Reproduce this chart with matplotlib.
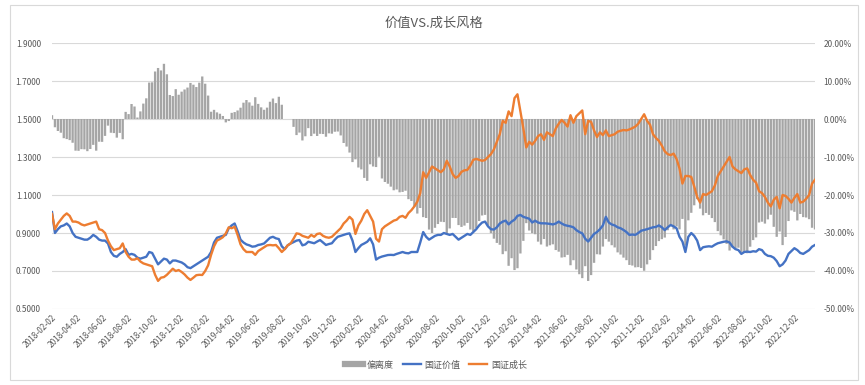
import matplotlib
import numpy as np
import pandas as pd

matplotlib.use("Agg")
import matplotlib.pyplot as plt  # noqa: E402
from matplotlib.lines import Line2D  # noqa: E402
from matplotlib.patches import Rectangle  # noqa: E402
from matplotlib.ticker import FuncFormatter  # noqa: E402

plt.rcParams["font.family"] = ["Noto Sans CJK SC", "DejaVu Sans"]

# weekly readings (Fridays) starting 2018-02-02
start = "2018-02-02"
value_idx = [  # 国证价值
    1.01, 0.90, 0.92, 0.935, 0.94, 0.95, 0.935, 0.90, 0.88, 0.875,
    0.87, 0.865, 0.865, 0.875, 0.89, 0.88, 0.865, 0.86, 0.86, 0.845,
    0.80, 0.78, 0.775, 0.79, 0.80, 0.815, 0.785, 0.79, 0.785, 0.77,
    0.765, 0.77, 0.775, 0.80, 0.795, 0.765, 0.735, 0.75, 0.765, 0.76,
    0.74, 0.755, 0.755, 0.75, 0.745, 0.735, 0.72, 0.715, 0.725, 0.735,
    0.745, 0.755, 0.765, 0.775, 0.80, 0.85, 0.875, 0.88, 0.885, 0.89,
    0.925, 0.94, 0.95, 0.91, 0.865, 0.85, 0.84, 0.835, 0.828, 0.83,
    0.837, 0.84, 0.845, 0.86, 0.875, 0.88, 0.872, 0.868, 0.83, 0.815,
    0.835, 0.845, 0.852, 0.86, 0.863, 0.835, 0.84, 0.854, 0.85, 0.846,
    0.855, 0.863, 0.85, 0.837, 0.842, 0.846, 0.865, 0.88, 0.885, 0.89,
    0.895, 0.898, 0.86, 0.80, 0.82, 0.837, 0.845, 0.854, 0.872, 0.84,
    0.76, 0.77, 0.776, 0.78, 0.784, 0.785, 0.784, 0.79, 0.795, 0.80,
    0.795, 0.793, 0.80, 0.80, 0.80, 0.85, 0.905, 0.88, 0.865, 0.875,
    0.885, 0.89, 0.89, 0.90, 0.895, 0.89, 0.895, 0.88, 0.865, 0.875,
    0.885, 0.895, 0.89, 0.905, 0.92, 0.94, 0.955, 0.96, 0.935, 0.92,
    0.918, 0.93, 0.95, 0.96, 0.965, 0.945, 0.96, 0.97, 0.99, 0.995,
    0.985, 0.98, 0.975, 0.955, 0.965, 0.955, 0.951, 0.951, 0.95, 0.948,
    0.945, 0.95, 0.96, 0.95, 0.942, 0.938, 0.935, 0.93, 0.915, 0.905,
    0.898, 0.87, 0.855, 0.875, 0.895, 0.905, 0.92, 0.94, 0.985, 0.955,
    0.945, 0.94, 0.93, 0.925, 0.916, 0.905, 0.89, 0.892, 0.89, 0.90,
    0.912, 0.916, 0.92, 0.925, 0.93, 0.932, 0.94, 0.93, 0.915, 0.93,
    0.942, 0.935, 0.925, 0.88, 0.855, 0.80, 0.88, 0.90, 0.885, 0.86,
    0.81, 0.825, 0.828, 0.83, 0.828, 0.838, 0.846, 0.85, 0.854, 0.856,
    0.85, 0.828, 0.815, 0.81, 0.79, 0.80, 0.802, 0.80, 0.804, 0.802,
    0.815, 0.81, 0.79, 0.78, 0.778, 0.77, 0.752, 0.725, 0.735, 0.755,
    0.79, 0.805, 0.82, 0.81, 0.795, 0.79, 0.80, 0.81, 0.828, 0.837,
]
growth_idx = [  # 国证成长
    1.00, 0.92, 0.95, 0.97, 0.99, 1.003, 0.99, 0.96, 0.96, 0.955,
    0.945, 0.94, 0.945, 0.95, 0.955, 0.96, 0.92, 0.915, 0.90, 0.86,
    0.83, 0.81, 0.815, 0.82, 0.845, 0.80, 0.775, 0.76, 0.76, 0.767,
    0.75, 0.74, 0.735, 0.73, 0.725, 0.68, 0.648, 0.665, 0.668, 0.68,
    0.696, 0.712, 0.70, 0.705, 0.695, 0.682, 0.665, 0.653, 0.665, 0.678,
    0.68, 0.679, 0.70, 0.73, 0.785, 0.83, 0.86, 0.868, 0.878, 0.898,
    0.93, 0.925, 0.933, 0.89, 0.84, 0.815, 0.80, 0.80, 0.80, 0.785,
    0.805, 0.815, 0.825, 0.835, 0.837, 0.835, 0.837, 0.82, 0.80, 0.815,
    0.835, 0.845, 0.87, 0.898, 0.895, 0.885, 0.88, 0.875, 0.89, 0.88,
    0.895, 0.898, 0.885, 0.878, 0.875, 0.88, 0.895, 0.91, 0.925, 0.95,
    0.965, 0.985, 0.97, 0.895, 0.94, 0.965, 1.0, 1.02, 0.99, 0.96,
    0.87, 0.855, 0.92, 0.935, 0.945, 0.955, 0.965, 0.97, 0.985, 0.99,
    0.98, 1.005, 1.02, 1.04, 1.065, 1.11, 1.22, 1.19, 1.22, 1.25,
    1.24, 1.23, 1.22, 1.235, 1.28, 1.25, 1.21, 1.19, 1.20, 1.222,
    1.23, 1.232, 1.255, 1.285, 1.29, 1.285, 1.28, 1.284, 1.30, 1.315,
    1.34, 1.38, 1.42, 1.49, 1.48, 1.54, 1.515, 1.61, 1.63, 1.54,
    1.45, 1.35, 1.38, 1.365, 1.385, 1.41, 1.42, 1.39, 1.43, 1.42,
    1.41, 1.45, 1.475, 1.495, 1.48, 1.46, 1.52, 1.48, 1.515, 1.53,
    1.545, 1.42, 1.49, 1.485, 1.44, 1.405, 1.43, 1.415, 1.44, 1.41,
    1.415, 1.42, 1.433, 1.438, 1.442, 1.44, 1.445, 1.452, 1.46, 1.475,
    1.50, 1.525, 1.49, 1.47, 1.42, 1.40, 1.385, 1.36, 1.33, 1.315,
    1.31, 1.318, 1.29, 1.24, 1.16, 1.20, 1.20, 1.195, 1.145, 1.09,
    1.06, 1.105, 1.10, 1.11, 1.12, 1.15, 1.20, 1.225, 1.25, 1.275,
    1.30, 1.25, 1.235, 1.225, 1.215, 1.235, 1.24, 1.205, 1.18, 1.165,
    1.12, 1.11, 1.09, 1.06, 1.04, 1.075, 1.09, 1.03, 1.10, 1.095,
    1.08, 1.06, 1.085, 1.105, 1.06, 1.065, 1.08, 1.10, 1.16, 1.18,
]
dates = pd.date_range(start, periods=len(value_idx), freq="7D")
# 偏离度 = 价值 / 成长 - 1
deviation = np.array(value_idx) / np.array(growth_idx) - 1

tick_dates = pd.date_range("2018-02-01", "2022-12-01", freq="2MS") + pd.Timedelta(days=1)
tick_labels = [d.strftime("%Y-%m-%d") for d in tick_dates]

TXT = "#595959"
W, H = 865, 385
fig = plt.figure(figsize=(W / 100, H / 100), dpi=100)
ax = fig.add_axes([52 / W, 1 - 309 / H, 763 / W, 266 / H])
ax2 = ax.twinx()

bars = ax2.bar(dates, deviation, width=5.5, color="#a5a5a5", linewidth=0, zorder=2)
for b in bars:
    b.set_snap(False)
ax2.set_ylim(-0.5, 0.2)
ax2.set_yticks(np.arange(-0.5, 0.201, 0.1))
ax2.yaxis.set_major_formatter(FuncFormatter(lambda v, _: f"{round(v * 100, 2) + 0:.2f}%"))
ax2.grid(axis="y", color="#d9d9d9", lw=0.8)
ax2.set_axisbelow(True)

ax.set_zorder(ax2.get_zorder() + 1)
ax.patch.set_visible(False)
ax.plot(dates, value_idx, color="#4472c4", lw=1.7)
ax.plot(dates, growth_idx, color="#ed7d31", lw=1.7)
ax.set_ylim(0.5, 1.9)
ax.set_yticks(np.arange(0.5, 1.901, 0.2))
ax.yaxis.set_major_formatter(FuncFormatter(lambda v, _: f"{v:.4f}"))
ax.set_xlim(dates[0], dates[-1])
ax.set_xticks(tick_dates)
ax.set_xticklabels(tick_labels, rotation=45, ha="right", rotation_mode="anchor")

for a in (ax, ax2):
    for s in a.spines.values():
        s.set_visible(False)
    a.tick_params(length=0, labelsize=6, labelcolor=TXT)
ax.tick_params(axis="y", pad=8)
ax2.tick_params(axis="y", pad=6)
ax.tick_params(axis="x", pad=3)

fig.text(433.5 / W, 1 - 23 / H, "价值VS.成长风格", ha="center", va="center",
         fontsize=9.5, color=TXT)

handles = [Line2D([], [], color="#a5a5a5", lw=4.5),
           Line2D([], [], color="#4472c4", lw=1.7),
           Line2D([], [], color="#ed7d31", lw=1.7)]
leg = fig.legend(handles, ["偏离度", "国证价值", "国证成长"], loc="center",
                 bbox_to_anchor=(436 / W, 1 - 365 / H), ncol=3, frameon=False,
                 fontsize=6.5, handlelength=2.0, columnspacing=1.0, handletextpad=0.4)
for t in leg.get_texts():
    t.set_color(TXT)

fig.patches.append(Rectangle((10 / W, 5 / H), 848 / W, 375 / H, transform=fig.transFigure,
                             fill=False, ec="#d9d9d9", lw=0.8))

fig.savefig("out.png", dpi=100)
print("wrote out.png")
